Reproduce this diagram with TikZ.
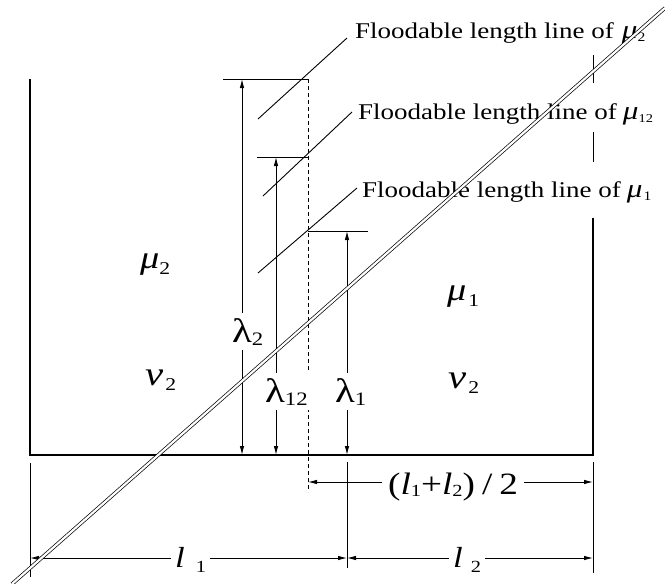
\documentclass[tikz,border=0pt]{standalone}
\usepackage{fontspec}
\setmainfont{Liberation Serif}[FakeStretch=1.2]
\usetikzlibrary{arrows.meta}
\newcommand{\lsub}[3]{\raisebox{#3}{\fontsize{#1}{#1}\selectfont #2}}
\begin{document}
\begin{tikzpicture}[x=1pt,y=-1pt,
  ln/.style={line width=0.9pt},
  boxln/.style={line width=1.2pt},
  tipB/.style={{Latex[length=9pt,width=4.5pt]}-{Latex[length=9pt,width=4.5pt]}},
  lab/.style={fill=white, inner xsep=4pt, inner ysep=5pt, anchor=base west},
  ftxt/.style={anchor=base west, inner sep=0pt, font=\fontsize{22.5}{22.5}\selectfont},
  sym/.style={anchor=base west, inner sep=0pt},
]
\useasboundingbox (0,0) rectangle (665,584);

% coordinates
\coordinate (BL) at (30,455);
\coordinate (BR) at (593,455);
\coordinate (TL) at (30,79);
\coordinate (RTop) at (593,218);
\coordinate (h2a) at (223,79);  \coordinate (h2b) at (308,79);
\coordinate (h12a) at (257,157); \coordinate (h12b) at (308,157);
\coordinate (h1a) at (308,231);  \coordinate (h1b) at (368,231);
\coordinate (a2t) at (242,79);   \coordinate (a2b) at (242,455);
\coordinate (a12t) at (276,157); \coordinate (a12b) at (276,455);
\coordinate (a1t) at (347,231);  \coordinate (a1b) at (347,455);
\coordinate (dT) at (308,79);    \coordinate (dB) at (308,492);
\coordinate (kL1) at (30,463);   \coordinate (kL2) at (30,577);
\coordinate (kM1) at (347,462);  \coordinate (kM2) at (347,568);
\coordinate (kR1) at (593,462);  \coordinate (kR2) at (593,573);
\coordinate (hL) at (308,482);   \coordinate (hR) at (593,482);
\coordinate (l1L) at (30,558);   \coordinate (l1R) at (347,558);
\coordinate (l2L) at (347,558);  \coordinate (l2R) at (593,558);
\coordinate (s1a) at (258,119);  \coordinate (s1b) at (347,38);
\coordinate (s2a) at (263,196);  \coordinate (s2b) at (352,112);
\coordinate (s3a) at (258,273);  \coordinate (s3b) at (357,188);
\coordinate (r1a) at (593,55);   \coordinate (r1b) at (593,83);
\coordinate (r2a) at (593,132);  \coordinate (r2b) at (593,162);
\coordinate (dg1) at (12,584);   \coordinate (dg2) at (665,8);

% box
\draw[boxln] (TL) -- (BL) -- (BR) -- (RTop);
\draw[ln] (r1a) -- (r1b);
\draw[ln] (r2a) -- (r2b);

% level lines
\draw[ln] (h2a) -- (h2b);
\draw[ln] (h12a) -- (h12b);
\draw[ln] (h1a) -- (h1b);
\draw[ln, dash pattern=on 4pt off 3pt] (dT) -- (dB);

% floodable length lines
\draw[ln] (s1a) -- (s1b);
\draw[ln] (s2a) -- (s2b);
\draw[ln] (s3a) -- (s3b);

% lambda arrows
\draw[ln, tipB] (a2t) -- (a2b);
\draw[ln, tipB] (a12t) -- (a12b);
\draw[ln, tipB] (a1t) -- (a1b);

% dimension ticks and arrows
\draw[ln] (kL1) -- (kL2);
\draw[ln] (kM1) -- (kM2);
\draw[ln] (kR1) -- (kR2);
\draw[ln, tipB] (hL) -- (hR);
\draw[ln, tipB] (l1L) -- (l1R);
\draw[ln, tipB] (l2L) -- (l2R);

% labels on arrows
\node[lab] (lam2) at (228,342) {\fontsize{34}{34}\selectfont λ\lsub{19}{2}{-3pt}};
\node[lab] (lam12) at (261,402) {\fontsize{34}{34}\selectfont λ\lsub{19}{12}{-3pt}};
\node[lab] (lam1) at (331,402) {\fontsize{34}{34}\selectfont λ\lsub{19}{1}{-3pt}};
\node[lab, inner xsep=6pt] (half) at (382,494) {\fontsize{31}{31}\selectfont (\textit{l}\lsub{17}{1}{-2pt}+\textit{l}\lsub{17}{2}{-2pt})\hspace{7pt}/\hspace{7pt}2\hspace{9pt}};
\node[lab] (ll1) at (171,567) {\fontsize{29}{29}\selectfont\textit{l}\hspace{11pt}\lsub{17}{1}{-5pt}\hspace{5pt}};
\node[lab] (ll2) at (449,567) {\fontsize{29}{29}\selectfont\textit{l}\hspace{8pt}\lsub{17}{2}{-5pt}\hspace{5pt}};

% region labels
\node[sym] (mu2) at (140,268) {\fontsize{32}{32}\selectfont\textit{μ}\lsub{18}{2}{-6pt}};
\node[sym] (nu2a) at (145,385) {\fontsize{34}{34}\selectfont\textit{ν}\hspace{2pt}\lsub{18}{2}{-5pt}};
\node[sym] (mu1) at (447,300) {\fontsize{32}{32}\selectfont\textit{μ}\hspace{2pt}\lsub{18}{1}{-6pt}};
\node[sym] (nu2b) at (448,388) {\fontsize{34}{34}\selectfont\textit{ν}\hspace{2pt}\lsub{18}{2}{-5pt}};

% floodable texts
\node[ftxt] (t1) at (355,38) {Floodable length line of\hspace{8pt}{\fontsize{26}{26}\selectfont\textit{μ}}\lsub{13}{2}{-3pt}};
\node[ftxt] (t2) at (358,119) {Floodable length line of\hspace{6pt}{\fontsize{26}{26}\selectfont\textit{μ}}\lsub{12}{12}{-3pt}};
\node[ftxt] (t3) at (362,197) {Floodable length line of\hspace{6pt}{\fontsize{26}{26}\selectfont\textit{μ}}\hspace{1pt}\lsub{13}{1}{-3pt}};

% double diagonal
\draw[double, double distance=2.2pt, line width=0.7pt] (dg1) -- (dg2);
\end{tikzpicture}
\end{document}
